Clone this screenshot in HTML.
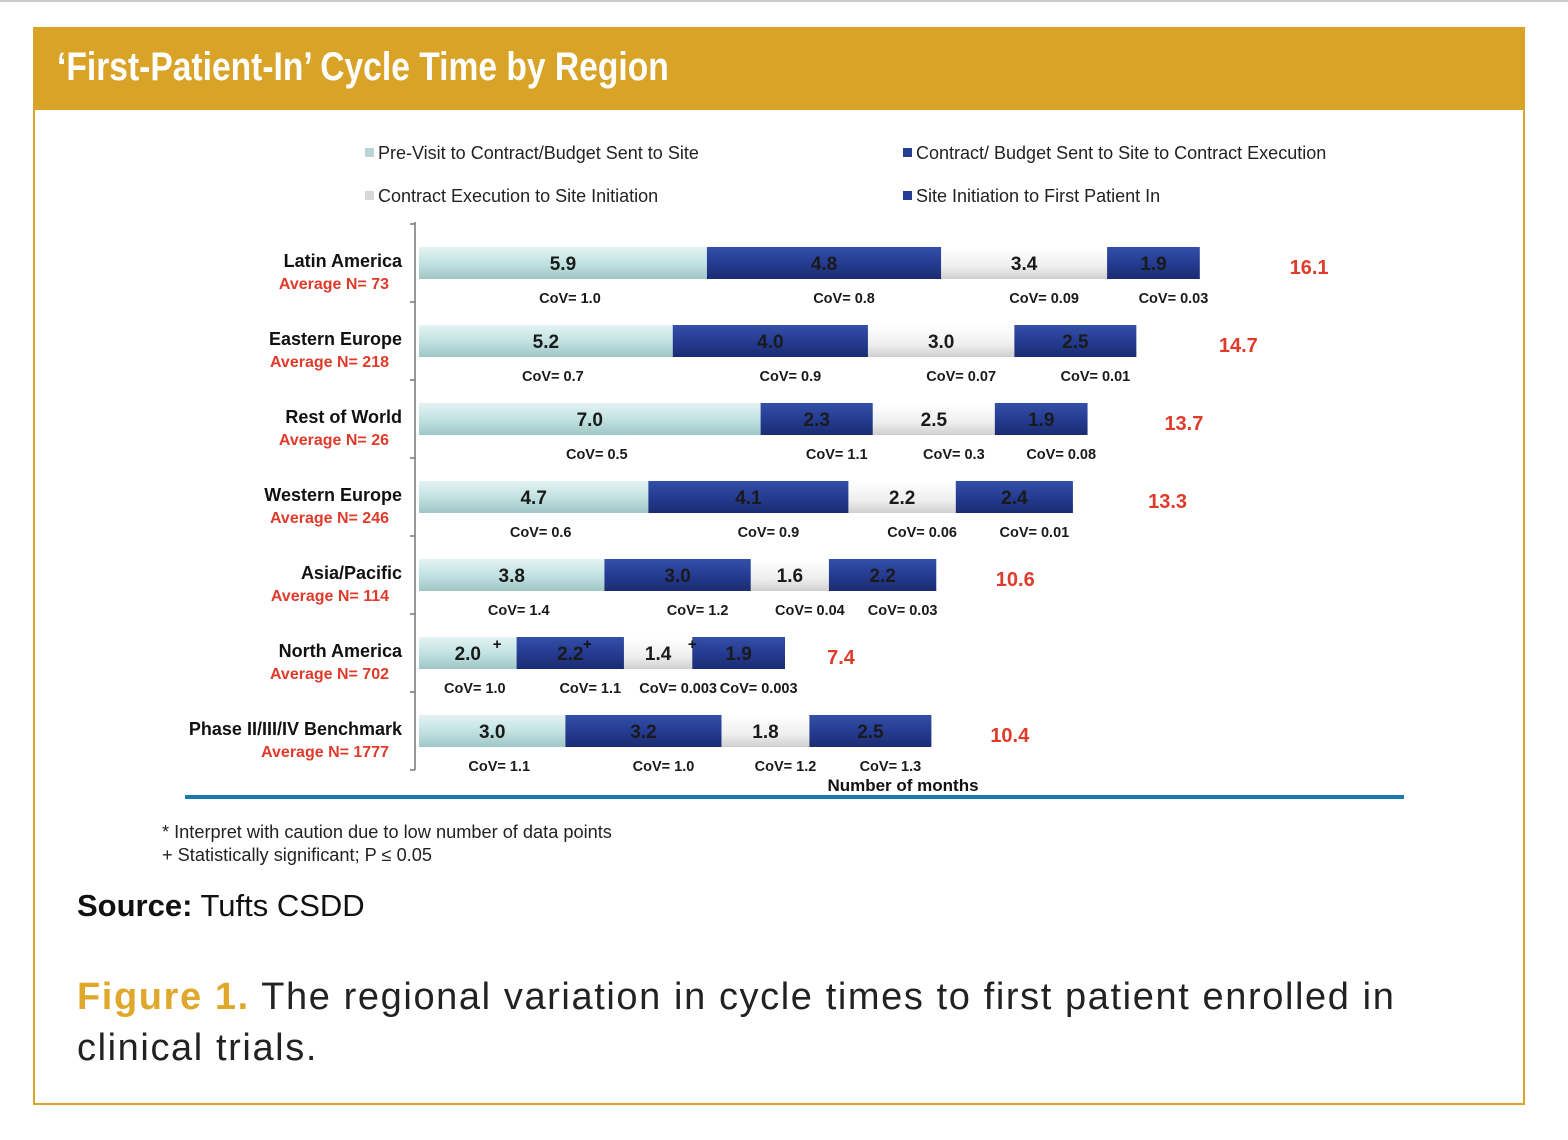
<!DOCTYPE html>
<html><head><meta charset="utf-8"><style>
body{margin:0;width:1568px;height:1140px;background:#fff;position:relative;overflow:hidden;font-family:"Liberation Sans",sans-serif}
.frame{position:absolute;left:33px;top:27px;width:1488px;height:1074px;border:2px solid #d9a327;box-sizing:content-box}
.hdr{position:absolute;left:33px;top:27px;width:1492px;height:83px;background:#d9a327}
.title{position:absolute;left:57px;top:45px;color:#fff;font-family:"Liberation Sans Narrow","Liberation Sans",sans-serif;font-weight:bold;font-size:40px;transform:scaleX(0.84);transform-origin:left}
.txt{position:absolute;white-space:nowrap}
</style></head><body>
<div class="frame"></div>
<div class="hdr"></div>
<div class="title">‘First-Patient-In’ Cycle Time by Region</div>
<div style="position:absolute;left:0;top:0;width:1568px;height:2px;background:#ccc"></div>
<svg id="chart" width="1568" height="1140" style="position:absolute;left:0;top:0">
<defs>
<linearGradient id="gTeal" x1="0" y1="0" x2="0" y2="1"><stop offset="0" stop-color="#e4f3f3"/><stop offset="0.5" stop-color="#c3e2e2"/><stop offset="1" stop-color="#9fc6c6"/></linearGradient>
<linearGradient id="gBlue" x1="0" y1="0" x2="0" y2="1"><stop offset="0" stop-color="#3550a8"/><stop offset="0.5" stop-color="#253c92"/><stop offset="1" stop-color="#1a2c70"/></linearGradient>
<linearGradient id="gWhite" x1="0" y1="0" x2="0" y2="1"><stop offset="0" stop-color="#ffffff"/><stop offset="0.6" stop-color="#efefef"/><stop offset="1" stop-color="#cfcfcf"/></linearGradient>
</defs>
</svg>
<div class="txt" style="left:162px;top:822px;font-size:18.2px;color:#222">* Interpret with caution due to low number of data points</div>
<div class="txt" style="left:162px;top:845px;font-size:18.2px;color:#222">+ Statistically significant; P ≤ 0.05</div>
<div class="txt" style="left:77px;top:888px;font-size:31px;color:#111"><b style="font-weight:900">Source:</b> Tufts CSDD</div>
<div class="txt" style="left:77px;top:972px;font-size:38px;letter-spacing:1.6px;color:#222;line-height:51px;white-space:normal;width:1400px"><b style="color:#e0a82a">Figure 1.</b> The regional variation in cycle times to first patient enrolled in clinical trials.</div>
<script>
const regions=["Latin America","Eastern Europe","Rest of World","Western Europe","Asia/Pacific","North America","Phase II/III/IV Benchmark"];
const sampleN=["73","218","26","246","114","702","1777"];
const preVisit=[5.9,5.2,7.0,4.7,3.8,2.0,3.0];
const contractExec=[4.8,4.0,2.3,4.1,3.0,2.2,3.2];
const siteInit=[3.4,3.0,2.5,2.2,1.6,1.4,1.8];
const firstPatient=[1.9,2.5,1.9,2.4,2.2,1.9,2.5];
const totals=["16.1","14.7","13.7","13.3","10.6","7.4","10.4"];
const covPre=["1.0","0.7","0.5","0.6","1.4","1.0","1.1"];
const covContract=["0.8","0.9","1.1","0.9","1.2","1.1","1.0"];
const covSite=["0.09","0.07","0.3","0.06","0.04","0.003","1.2"];
const covFirst=["0.03","0.01","0.08","0.01","0.03","0.003","1.3"];
const legendLabels=["Pre-Visit to Contract/Budget Sent to Site","Contract/ Budget Sent to Site to Contract Execution","Contract Execution to Site Initiation","Site Initiation to First Patient In"];

const svg=document.getElementById('chart');
const NS='http://www.w3.org/2000/svg';
const x0=419, pxPerMonth=48.8, rowTop=263, rowStep=78, barH=32;
const xScale=v=>x0+v*pxPerMonth;
const yScale=i=>rowTop+i*rowStep;
function mk(tag,attrs,text){const e=document.createElementNS(NS,tag);for(const k in attrs)e.setAttribute(k,attrs[k]);if(text!==undefined)e.textContent=text;svg.appendChild(e);return e;}
const fills=["url(#gTeal)","url(#gBlue)","url(#gWhite)","url(#gBlue)"];
const series=[preVisit,contractExec,siteInit,firstPatient];
const covs=[covPre,covContract,covSite,covFirst];
const segNames=["pre-visit","contract-execution","site-initiation","first-patient"];

let ax=mk('line',{x1:415,y1:222,x2:415,y2:770,stroke:'#777','stroke-width':1.5});


for(let i=0;i<=regions.length;i++){
  const ty=yScale(i)-39;
  let t=mk('line',{x1:410,y1:ty,x2:415,y2:ty,stroke:'#777','stroke-width':1.5});
  
  
}
regions.forEach((r,i)=>{
  const cy=yScale(i);
  let nm=mk('text',{x:402,y:cy+4,'text-anchor':'end','font-size':18,'font-weight':'bold',fill:'#111'},r);
  
  
  let av=mk('text',{x:389,y:cy+26,'text-anchor':'end','font-size':16,'font-weight':'bold',fill:'#e03a2a'},'Average N= '+sampleN[i]);
  
  
  let acc=0;
  series.forEach((s,k)=>{
    const xa=xScale(acc), xb=xScale(acc+s[i]);
    let rc=mk('rect',{x:xa,y:cy-barH/2,width:xb-xa,height:barH,fill:fills[k]});
    
    
    let vl=mk('text',{x:(xa+xb)/2,y:cy+7,'text-anchor':'middle','font-size':19,'font-weight':'bold',fill:'#1a1a1a'},s[i].toFixed(1));
    
    
    let cv=mk('text',{x:(xa+xb)/2+(k===0?7:20),y:cy+40,'text-anchor':'middle','font-size':14.5,'font-weight':'bold',fill:'#1a1a1a'},'CoV= '+covs[k][i]);
    
    
    acc+=s[i];
  });
  let tt=mk('text',{x:xScale(acc*1.115),y:cy+11,'text-anchor':'start','font-size':20,'font-weight':'bold',fill:'#e03a2a'},totals[i]);
  
  
});
[preVisit[5]-0.4,preVisit[5]+contractExec[5]-0.75,preVisit[5]+contractExec[5]+siteInit[5]].forEach(v=>{
  let p=mk('text',{x:xScale(v),y:yScale(5)-4,'text-anchor':'middle','font-size':15,'font-weight':'bold',fill:'#111'},'+');
  
  
});
let xt=mk('text',{x:903,y:791,'text-anchor':'middle','font-size':17,'font-weight':'bold',fill:'#111'},'Number of months');


let bl=mk('rect',{x:185,y:795,width:1219,height:4,fill:'#1a7ab0'});


const legPos=[[365,153],[903,153],[365,196],[903,196]];
const legCol=["#b8d4d4","#253c92","#d8d8d8","#253c92"];
legendLabels.forEach((l,k)=>{
  const [lx,ly]=legPos[k];
  let m=mk('rect',{x:lx,y:ly-5,width:9,height:9,fill:legCol[k]});
  
  
  let t=mk('text',{x:lx+13,y:ly+6,'font-size':18,fill:'#222'},l);
  
  
});
</script>
</body></html>
